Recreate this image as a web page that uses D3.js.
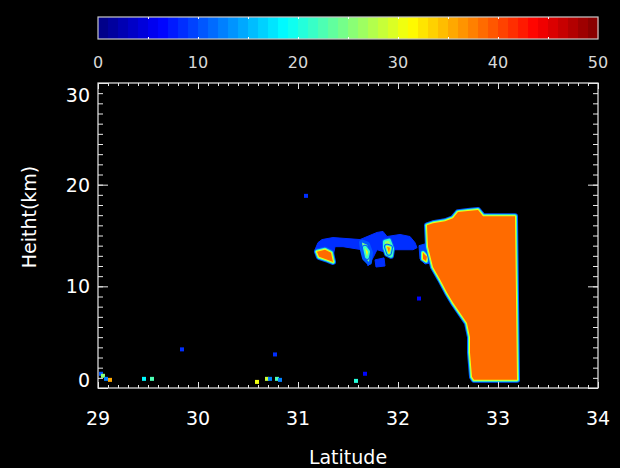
<!DOCTYPE html>
<html>
<head>
<meta charset="utf-8">
<script src="https://cdn.jsdelivr.net/npm/d3@7"></script>
<style>
  body { margin: 0; background: #000; }
  #chart { width: 620px; height: 468px; }
  text { font-family: "DejaVu Sans", sans-serif; }
</style>
</head>
<body>
<div id="chart"></div>
<script>
// axis ticks
const latTicks = [29, 30, 31, 32, 33, 34];
const hgtTicks = [0, 10, 20, 30];
const cbarTicks = [0, 10, 20, 30, 40, 50];

// echo outlines, [latitude, height km], with their reflectivity (dBZ)
const mainCell = [[33.17, 16.9], [32.85, 16.9], [32.80, 17.5], [32.70, 17.4], [32.60, 17.3],
  [32.55, 16.7], [32.47, 16.4], [32.35, 16.2], [32.29, 16.0], [32.30, 13.9], [32.35, 11.9],
  [32.42, 10.7], [32.49, 9.4], [32.55, 8.4], [32.62, 7.4], [32.69, 6.4], [32.72, 5.0],
  [32.72, 3.5], [32.74, 1.1], [32.76, 0.8], [33.19, 0.8]];
const mainDbz = 38;

const anvil = [[31.17, 13.6], [31.20, 14.3], [31.24, 14.6], [31.35, 14.8], [31.62, 14.6],
  [31.79, 15.3], [31.85, 15.4], [31.89, 14.9], [32.02, 15.1], [32.12, 14.9], [32.17, 14.3],
  [32.19, 13.8], [32.15, 13.6], [31.95, 13.6], [31.92, 13.0], [31.86, 13.4], [31.79, 13.6],
  [31.75, 12.8], [31.70, 12.0], [31.68, 12.8], [31.64, 13.6], [31.45, 13.9], [31.37, 13.9],
  [31.34, 12.4], [31.30, 12.8], [31.19, 13.2]];
const anvilDbz = 8;

const blueBlob = [[31.77, 12.6], [31.86, 12.8], [31.87, 12.0], [31.78, 11.9]];
const blueBlobDbz = 8;

const cellA = [[31.19, 13.4], [31.27, 13.6], [31.33, 13.3], [31.35, 12.4], [31.30, 12.6], [31.21, 12.9]];
const cellADbz = 38;
const cellB = [[31.64, 14.3], [31.69, 14.1], [31.72, 13.3], [31.71, 12.4], [31.67, 12.8], [31.65, 13.6]];
const cellBDbz = 24;
const cellBCore = [[31.67, 13.8], [31.70, 13.4], [31.69, 12.9]];
const cellBCoreDbz = 30;
const cellC = [[31.87, 14.4], [31.91, 14.5], [31.94, 13.7], [31.93, 13.0], [31.89, 13.2], [31.87, 13.8]];
const cellCDbz = 26;
const cellCCore = [[31.89, 13.9], [31.92, 13.8], [31.91, 13.3]];
const cellCCoreDbz = 37;
const cellD = [[32.21, 14.0], [32.28, 14.2], [32.33, 13.0], [32.33, 12.3], [32.27, 12.2], [32.22, 12.7]];
const cellDDbz = 9;
const cellDCore = [[32.25, 13.3], [32.29, 12.9], [32.28, 12.5], [32.25, 12.7]];
const cellDCoreDbz = 38;

// isolated small echoes [latitude, height km, dBZ]
const specks = [[31.08, 18.9, 8], [32.21, 8.8, 6], [29.84, 3.8, 8], [30.77, 3.3, 8],
  [31.67, 1.4, 6], [31.58, 0.7, 20], [29.03, 1.4, 10], [29.05, 1.2, 25], [29.08, 0.9, 12],
  [29.12, 0.8, 35], [29.46, 0.9, 18], [29.54, 0.9, 22], [30.59, 0.6, 30], [30.69, 0.9, 28],
  [30.72, 0.9, 12], [30.79, 0.9, 22], [30.82, 0.8, 12]];

let margin = { top: 83, left: 98 },
    width = 500,
    height = 305;

let svg = d3.select("#chart").append("svg")
    .attr("width", 620)
    .attr("height", 468)
    .style("background", "#000");

let xScale = d3.scaleLinear().domain([29, 34]).range([margin.left, margin.left + width]);
let yScale = d3.scaleLinear().domain([0, 30]).range([margin.top + height, margin.top]);

// discrete jet colour table, 50 steps over 0-50 dBZ
function jet(t) {
    let c = v => Math.round(255 * Math.max(0, Math.min(1, v)));
    return d3.rgb(c(1.5 - Math.abs(4 * t - 3)), c(1.5 - Math.abs(4 * t - 2)), c(1.5 - Math.abs(4 * t - 1)));
}
function dbzColor(v) {
    let i = Math.max(0, Math.min(49, Math.floor(v)));
    return jet((i + 0.5) / 50);
}

// colour bar
let cbScale = d3.scaleLinear().domain([0, 50]).range([98, 598]);
let cb = svg.append("g");
cb.selectAll("rect.step")
    .data(d3.range(50))
    .enter().append("rect")
    .attr("class", "step")
    .attr("x", d => cbScale(d))
    .attr("y", 17)
    .attr("width", cbScale(1) - cbScale(0) + 0.5)
    .attr("height", 22)
    .attr("fill", d => dbzColor(d));
cb.append("rect")
    .attr("x", 98).attr("y", 17).attr("width", 500).attr("height", 22)
    .attr("fill", "none").attr("stroke", "#c8c8c8").attr("stroke-width", 1.2);
cb.append("g").attr("transform", "translate(0,17)")
    .call(d3.axisTop(cbScale).tickValues(d3.range(5, 50, 5)).tickSize(-2).tickFormat(""))
    .call(g => g.select(".domain").remove())
    .selectAll("line").attr("stroke", "#fff");
cb.append("g").attr("transform", "translate(0,39)")
    .call(d3.axisBottom(cbScale).tickValues(d3.range(5, 50, 5)).tickSize(-2).tickFormat(""))
    .call(g => g.select(".domain").remove())
    .selectAll("line").attr("stroke", "#fff");
cb.selectAll("text.cbl")
    .data(cbarTicks)
    .enter().append("text")
    .attr("class", "cbl")
    .attr("x", d => cbScale(d))
    .attr("y", 68)
    .attr("text-anchor", "middle")
    .attr("fill", "#d8d8d8")
    .style("font-size", "16px")
    .text(d => d);

// plot area
svg.append("clipPath").attr("id", "clip")
    .append("rect")
    .attr("x", margin.left).attr("y", margin.top)
    .attr("width", width).attr("height", height);

let plot = svg.append("g").attr("clip-path", "url(#clip)");
let line = d3.line().x(d => xScale(d[0])).y(d => yScale(d[1])).curve(d3.curveLinearClosed);

function drawEcho(pts, dbz) {
    // weaker rim around strong echoes
    let rims = [[10, 6], [21, 4], [30, 2]].filter(r => r[0] < dbz - 3);
    rims.forEach(r => {
        plot.append("path")
            .datum(pts)
            .attr("d", line)
            .attr("fill", dbzColor(r[0]))
            .attr("stroke", dbzColor(r[0]))
            .attr("stroke-width", r[1])
            .attr("stroke-linejoin", "round");
    });
    plot.append("path")
        .datum(pts)
        .attr("d", line)
        .attr("fill", dbzColor(dbz))
        .attr("stroke", dbzColor(dbz))
        .attr("stroke-width", rims.length ? 0 : 1);
}

drawEcho(anvil, anvilDbz);
drawEcho(blueBlob, blueBlobDbz);
drawEcho(cellD, cellDDbz);
drawEcho(cellA, cellADbz);
drawEcho(cellB, cellBDbz);
drawEcho(cellBCore, cellBCoreDbz);
drawEcho(cellC, cellCDbz);
drawEcho(cellCCore, cellCCoreDbz);
drawEcho(cellDCore, cellDCoreDbz);
drawEcho(mainCell, mainDbz);

plot.selectAll("rect.speck")
    .data(specks)
    .enter().append("rect")
    .attr("class", "speck")
    .attr("x", d => xScale(d[0]) - 2)
    .attr("y", d => yScale(d[1]) - 2)
    .attr("width", 4)
    .attr("height", 4)
    .attr("fill", d => dbzColor(d[2]));

// frame and ticks
let axisColor = "#e8e8e8";
function styleAxis(g) {
    g.select(".domain").remove();
    g.selectAll("line").attr("stroke", axisColor);
}
let minorX = d3.range(290, 341).map(d => d / 10);
let minorY = d3.range(0, 31);
svg.append("g").attr("transform", "translate(0," + (margin.top + height) + ")")
    .call(d3.axisBottom(xScale).tickValues(minorX).tickSize(-3).tickFormat("")).call(styleAxis);
svg.append("g").attr("transform", "translate(0," + (margin.top + height) + ")")
    .call(d3.axisBottom(xScale).tickValues(latTicks).tickSize(-6).tickFormat("")).call(styleAxis);
svg.append("g").attr("transform", "translate(0," + margin.top + ")")
    .call(d3.axisTop(xScale).tickValues(minorX).tickSize(-3).tickFormat("")).call(styleAxis);
svg.append("g").attr("transform", "translate(0," + margin.top + ")")
    .call(d3.axisTop(xScale).tickValues(latTicks).tickSize(-6).tickFormat("")).call(styleAxis);
svg.append("g").attr("transform", "translate(" + margin.left + ",0)")
    .call(d3.axisLeft(yScale).tickValues(minorY).tickSize(-5).tickFormat("")).call(styleAxis);
svg.append("g").attr("transform", "translate(" + margin.left + ",0)")
    .call(d3.axisLeft(yScale).tickValues(hgtTicks).tickSize(-10).tickFormat("")).call(styleAxis);
svg.append("g").attr("transform", "translate(" + (margin.left + width) + ",0)")
    .call(d3.axisRight(yScale).tickValues(minorY).tickSize(-5).tickFormat("")).call(styleAxis);
svg.append("g").attr("transform", "translate(" + (margin.left + width) + ",0)")
    .call(d3.axisRight(yScale).tickValues(hgtTicks).tickSize(-10).tickFormat("")).call(styleAxis);

svg.append("rect")
    .attr("x", margin.left).attr("y", margin.top)
    .attr("width", width).attr("height", height)
    .attr("fill", "none")
    .attr("stroke", axisColor)
    .attr("stroke-width", 1.2);

// tick labels
svg.selectAll("text.xl")
    .data(latTicks)
    .enter().append("text")
    .attr("class", "xl")
    .attr("x", d => xScale(d))
    .attr("y", 425)
    .attr("text-anchor", "middle")
    .attr("fill", "#fff")
    .style("font-size", "19px")
    .text(d => d);

svg.selectAll("text.yl")
    .data(hgtTicks)
    .enter().append("text")
    .attr("class", "yl")
    .attr("x", 90)
    .attr("y", d => Math.max(margin.top + 12, Math.min(margin.top + height - 8, yScale(d))) + 7)
    .attr("text-anchor", "end")
    .attr("fill", "#fff")
    .style("font-size", "19px")
    .text(d => d);

// axis titles
svg.append("text")
    .attr("x", xScale(31.5))
    .attr("y", 464)
    .attr("text-anchor", "middle")
    .attr("fill", "#fff")
    .style("font-size", "19px")
    .text("Latitude");

svg.append("text")
    .attr("transform", "translate(36,217) rotate(-90)")
    .attr("text-anchor", "middle")
    .attr("fill", "#fff")
    .style("font-size", "19px")
    .text("Heitht(km)");
</script>
</body>
</html>
